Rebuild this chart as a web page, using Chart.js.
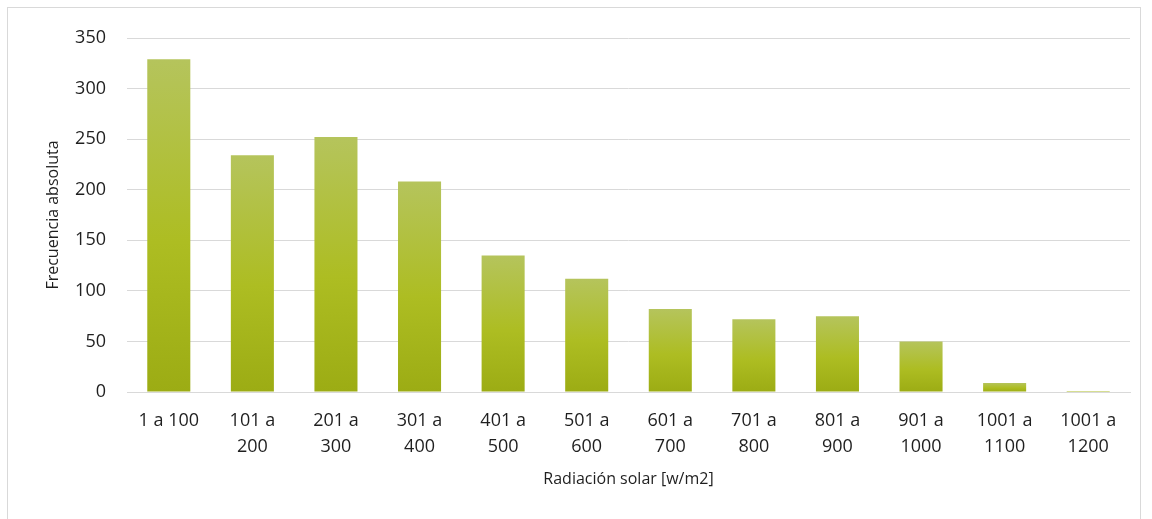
<!DOCTYPE html>
<html>
<head>
<meta charset="utf-8">
<script src="https://cdn.jsdelivr.net/npm/chart.js@4"></script>
<style>
  html, body { margin: 0; padding: 0; background: #fff; }
  #wrap { position: absolute; left: 7px; top: 7px; width: 1134px; height: 520px; border: 1px solid #d9d9d9; box-sizing: border-box; }
  canvas { display: block; }
</style>
</head>
<body>
<div id="wrap"><canvas id="c"></canvas></div>
<script>
const categories = [
  '1 a 100', ['101 a', '200'], ['201 a', '300'], ['301 a', '400'], ['401 a', '500'],
  ['501 a', '600'], ['601 a', '700'], ['701 a', '800'], ['801 a', '900'],
  ['901 a', '1000'], ['1001 a', '1100'], ['1001 a', '1200']
];
const frecuencia = [329, 234, 252, 208, 135, 112, 82, 72, 75, 50, 9, 1];
const yTicks = { min: 0, max: 350, step: 50 };
const xTitle = 'Radiación solar [w/m2]';
const yTitle = 'Frecuencia absoluta';

function barGradient(ctx) {
  const chart = ctx.chart;
  if (!chart.chartArea || ctx.type !== 'data') return '#adbd22';
  const y = chart.scales.y;
  const top = y.getPixelForValue(ctx.raw);
  const bot = y.getPixelForValue(0);
  if (!(bot > top)) return '#b3c45a';
  const g = chart.ctx.createLinearGradient(0, top, 0, bot);
  g.addColorStop(0, '#b5c45c');
  g.addColorStop(0.55, '#adbd22');
  g.addColorStop(1, '#9cac14');
  return g;
}

const font = "'Open Sans', 'Noto Sans', sans-serif";
const textColor = '#1f1f1f';
new Chart(document.getElementById('c'), {
  type: 'bar',
  data: {
    labels: categories,
    datasets: [{
      data: frecuencia,
      backgroundColor: barGradient,
      borderWidth: 0,
      barPercentage: 0.515,
      categoryPercentage: 1
    }]
  },
  options: {
    responsive: true,
    maintainAspectRatio: false,
    animation: false,
    layout: { padding: { left: 32, right: 10, top: 28, bottom: 19 } },
    plugins: { legend: { display: false }, tooltip: { enabled: false } },
    scales: {
      x: {
        afterFit: (a) => { a.height = 115; },
        grid: { display: false, drawTicks: false },
        border: { display: true, color: '#d9d9d9', width: 1 },
        ticks: { color: textColor, font: { family: font, size: 18, lineHeight: 1.444 }, maxRotation: 0, autoSkip: false, padding: 16 },
        title: { display: true, text: xTitle, color: textColor, font: { family: font, size: 16 }, padding: { top: 4, bottom: 18 } }
      },
      y: {
        afterFit: (a) => { a.width = 87; },
        min: yTicks.min, max: yTicks.max,
        grid: { color: '#d9d9d9', lineWidth: 1, drawTicks: false },
        border: { display: false },
        ticks: { stepSize: yTicks.step, color: textColor, font: { family: font, size: 18, lineHeight: 1 }, padding: 21 },
        title: { display: true, text: yTitle, color: textColor, font: { family: font, size: 16 }, padding: { top: 4, bottom: 4 } }
      }
    }
  }
});
</script>
</body>
</html>
